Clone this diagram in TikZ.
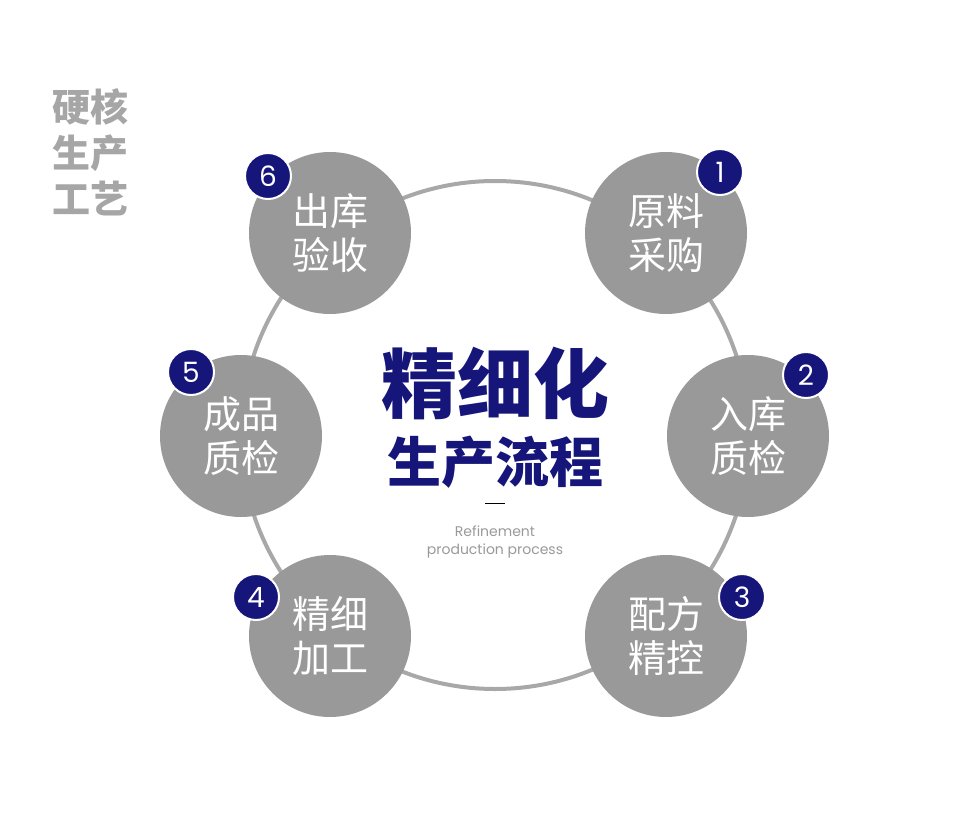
\documentclass[tikz,border=0pt]{standalone}
\usepackage{fontspec}
\newfontfamily\cjk{Noto Sans CJK SC}
\newfontfamily\enf{Poppins}
\definecolor{cgray}{HTML}{999999}
\definecolor{sgray}{HTML}{A6A6A6}
\definecolor{navy}{HTML}{15157A}
\definecolor{ringc}{HTML}{A8A8A8}
\tikzset{
 stepc/.style={circle,fill=cgray,minimum size=162pt,inner sep=0pt,text=white,font=\cjk\fontsize{38}{44}\selectfont,align=center},
 badge/.style={circle,fill=navy,draw=white,line width=2pt,minimum size=46pt,inner sep=0pt,text=white,font=\enf\fontsize{28}{28}\selectfont},
}
\begin{document}
\begin{tikzpicture}[x=1pt,y=-1pt]
\useasboundingbox (0,0) rectangle (975,819);
\node[draw=ringc,line width=4pt,circle,minimum size=508pt] (ring) at (495,435) {};
\node[stepc] (s1) at (666,233) {原料\\采购};
\node[stepc] (s2) at (748,436) {入库\\质检};
\node[stepc] (s3) at (666,636) {配方\\精控};
\node[stepc] (s4) at (330,636) {精细\\加工};
\node[stepc] (s5) at (241,436) {成品\\质检};
\node[stepc] (s6) at (330,233) {出库\\验收};
\node[badge] (b1) at (720,172) {1};
\node[badge] (b2) at (806,375) {2};
\node[badge] (b3) at (742,597) {3};
\node[badge] (b4) at (256,597) {4};
\node[badge] (b5) at (191,372) {5};
\node[badge] (b6) at (268,176) {6};
\node[text=navy,font=\cjk\bfseries\fontsize{76}{76}\selectfont] (t1) at (495,383) {精细化};
\node[text=navy,font=\cjk\bfseries\fontsize{54}{54}\selectfont] (t2) at (495,462) {生产流程};
\draw[black,line width=1pt] (485,503) -- (505,503);
\node[text=cgray,font=\enf\fontsize{14}{18}\selectfont,align=center] (en) at (495,542) {Refinement\\production process};
\node[text=sgray,font=\cjk\bfseries\fontsize{38}{46}\selectfont,align=left] (side) at (90,152) {硬核\\生产\\工艺};
\end{tikzpicture}
\end{document}
